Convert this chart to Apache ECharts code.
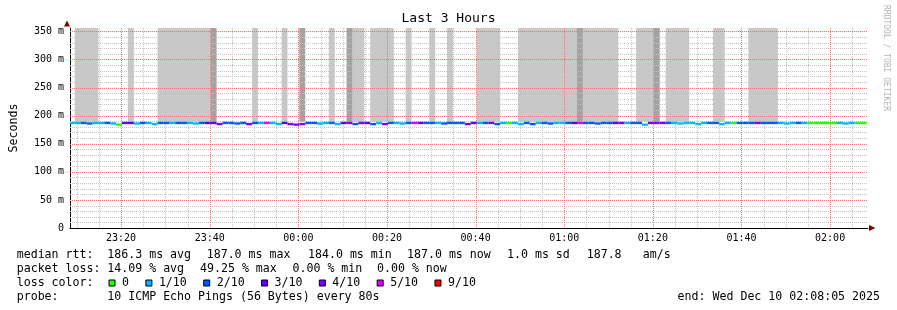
<!DOCTYPE html>
<html><head><meta charset="utf-8">
<script src="https://cdn.jsdelivr.net/npm/echarts@6.0.0/dist/echarts.min.js"></script>
<style>html,body{margin:0;padding:0;background:#fff}#c{width:897px;height:310px}</style>
</head><body><div id="c"></div>
<script>
// ---------- data (times are minutes after 23:00) ----------
const axisStartMin = 8.47;      // 23:08:28
const axisEndMin = 188.55;      // 02:08:33
const firstStepMin = 8.2167;    // start of the first 80 s step
const stepMin = 80 / 60;        // SmokePing step = 80 s
const timeLabelMins = [20, 40, 60, 80, 100, 120, 140, 160, 180];
const yLabelValues = [0, 50, 100, 150, 200, 250, 300, 350];

// per step: packet loss (pings lost out of 10)
const lossTenths = [
  1,1,2,2,1,1,2,1,0,3,
  3,1,2,1,1,2,2,1,2,2,
  1,1,2,3,3,4,2,2,2,2,
  4,2,1,5,1,1,3,4,4,4,
  2,2,1,1,2,1,3,4,2,4,
  3,2,1,4,2,1,1,2,5,3,
  2,2,1,2,2,2,2,4,3,1,
  2,4,2,1,0,1,1,2,2,1,
  2,2,1,1,2,3,5,2,2,2,
  2,2,3,4,1,2,2,1,4,4,
  4,2,1,1,1,1,1,1,2,2,
  1,1,0,2,2,2,4,2,2,2,
  1,1,1,2,1,0,0,0,0,0,
  1,1,1,0,0
];
// per step: median rtt in ms
const medianMs = [
  187,187,187,186,187,187,187,186,184,187,
  187,186,187,187,185,187,187,187,187,187,
  187,186,187,187,187,185,187,187,186,187,
  185,187,187,187,187,185,187,185,184,185,
  187,187,186,187,187,185,187,187,185,187,
  187,185,187,185,187,187,186,187,187,187,
  187,187,187,186,187,187,187,185,187,187,
  187,187,185,187,187,187,185,187,185,187,
  187,186,187,187,187,187,187,187,187,186,
  187,187,187,187,187,187,187,184,187,187,
  187,187,187,186,187,187,185,187,187,187,
  185,187,187,187,187,187,187,187,187,187,
  187,186,187,187,187,187,187,187,187,187,
  187,186,187,187,187
];
// smoke (rtt spread) : step index ranges, light and dense
const smokeLightSpans = [[1,4],[10,10],[15,23],[31,31],[36,36],[44,44],[48,49],[51,54],[57,57],[61,61],[64,64],[69,72],[76,85],[87,92],[96,98],[101,104],[109,110],[115,119]];
const smokeDarkSteps = [24,39,47,86,99];
const smokeFloorMs = 189;
const smokeTopMs = 380;   // runs off the top of the graph

const lossLegendNames = ['0','1/10','2/10','3/10','4/10','5/10','9/10'];
const lossColors = ['#26ff00','#00b8ff','#0059ff','#5e00ff','#7e00ff','#dd00ff','#ff0000'];

const rttItems = ['median rtt:', '186.3 ms avg', '187.0 ms max', '184.0 ms min', '187.0 ms now', '1.0 ms sd', '187.8', 'am/s'];
const lossItems = ['packet loss:', '14.09 % avg', '49.25 % max', '0.00 % min', '0.00 % now'];
const probeText = ['probe:', '10 ICMP Echo Pings (56 Bytes) every 80s'];
const endText = 'end: Wed Dec 10 02:08:05 2025';
const titleText = 'Last 3 Hours';
const watermark = 'RRDTOOL / TOBI OETIKER';

// ---------- layout ----------
const rttX = [16.7, 107.3, 206.7, 308, 407, 507, 586.7, 642.7];
const lossX = [16.7, 107.3, 200, 292.5, 377];
const probeX = [16.7, 107.3];
const FONT = 'DejaVu Sans Mono';

function levelIndex(t) { return t >= 6 ? 6 : t; }
function fmtTime(m) {
  const t = ((23 * 60 + Math.round(m)) % 1440 + 1440) % 1440;
  const h = Math.floor(t / 60), mm = t % 60;
  return (h < 10 ? '0' : '') + h + ':' + (mm < 10 ? '0' : '') + mm;
}
function clipRect(r, cs) {
  return echarts.graphic.clipRectByRect(r, {x: cs.x, y: cs.y, width: cs.width, height: cs.height});
}
function renderSmoke(params, api) {
  const p1 = api.coord([api.value(0), api.value(3)]);
  const p2 = api.coord([api.value(1), api.value(2)]);
  const r = clipRect({x: p1[0], y: p1[1], width: p2[0] - p1[0], height: p2[1] - p1[1]}, params.coordSys);
  if (!r) return;
  return {type: 'rect', shape: r, style: {fill: api.visual('color')}};
}
function renderMedian(params, api) {
  const v = api.value(2);
  const p1 = api.coord([api.value(0), v]);
  const p2 = api.coord([api.value(1), v]);
  const r = clipRect({x: p1[0], y: p1[1] - 1.2, width: p2[0] - p1[0], height: 2.4}, params.coordSys);
  if (!r) return;
  return {type: 'rect', shape: r, style: {fill: api.visual('color')}};
}
// grid line: data item = [orientation(0=vertical,1=horizontal), value]
function renderGrid(params, api) {
  const cs = params.coordSys;
  const o = api.value(0), v = api.value(1);
  let shape;
  if (o === 0) {
    const x = Math.round(api.coord([v, 0])[0]) + 0.5;
    shape = {x1: x, y1: cs.y, x2: x, y2: cs.y + cs.height};
  } else {
    const y = Math.round(api.coord([axisStartMin, v])[1]) + 0.5;
    shape = {x1: cs.x, y1: y, x2: cs.x + cs.width, y2: y};
  }
  return {type: 'line', shape, style: {stroke: api.visual('color'), lineWidth: 1, lineDash: [1, 1]}};
}

const stepStart = i => firstStepMin + i * stepMin;
const lightData = smokeLightSpans.map(s => [stepStart(s[0]), stepStart(s[1] + 1), smokeFloorMs, smokeTopMs]);
const darkData = smokeDarkSteps.map(i => [stepStart(i), stepStart(i + 1), smokeFloorMs, smokeTopMs]);

const medianSeries = lossLegendNames.map((name, k) => {
  const data = [];
  medianMs.forEach((v, i) => {
    if (levelIndex(lossTenths[i]) === k) data.push([stepStart(i), stepStart(i + 1), v]);
  });
  return {name, type: 'custom', z: 5, renderItem: renderMedian, data,
    encode: {x: [0, 1], y: 2}, itemStyle: {color: lossColors[k]}, silent: true};
});

const minorGrid = [], majorGrid = [];
for (let m = 10; m <= 185; m += 5) (m % 20 === 0 ? majorGrid : minorGrid).push([0, m]);
for (let v = 10; v <= 350; v += 10) (v % 50 === 0 ? majorGrid : minorGrid).push([1, v]);

const graphics = [];
const txt = (x, y, t, extra) => ({type: 'text', x, y, style: Object.assign({text: t, fontFamily: FONT, fontSize: 11.6, fill: '#000', verticalAlign: 'middle'}, extra || {})});
rttItems.forEach((t, i) => graphics.push(txt(rttX[i], 255, t)));
lossItems.forEach((t, i) => graphics.push(txt(lossX[i], 268.5, t)));
graphics.push(txt(16.7, 283, 'loss color:'));
probeText.forEach((t, i) => graphics.push(txt(probeX[i], 297, t)));
graphics.push(txt(880, 297, endText, {align: 'right'}));
graphics.push({type: 'text', x: 886, y: 5, rotation: -Math.PI / 2, style: {text: watermark, fontFamily: FONT, fontSize: 8, fill: '#b4b4b4', align: 'left', verticalAlign: 'middle'}});
graphics.push({type: 'polygon', shape: {points: [[64, 26.5], [70, 26.5], [67, 20.5]]}, style: {fill: '#800000'}, z: 100});
graphics.push({type: 'polygon', shape: {points: [[869, 225], [869, 231], [875.5, 228]]}, style: {fill: '#800000'}, z: 100});

const chart = echarts.init(document.getElementById('c'), null, {renderer: 'canvas'});
chart.setOption({
  animation: false,
  backgroundColor: '#ffffff',
  title: {text: titleText, left: 'center', top: 12, padding: 0,
    textStyle: {fontFamily: FONT, fontSize: 13, fontWeight: 'normal', color: '#000'}},
  legend: {
    data: lossLegendNames, left: 108.5, top: 277, padding: 0, itemGap: 16.4,
    itemWidth: 6, itemHeight: 6, icon: 'rect', selectedMode: false,
    itemStyle: {borderColor: '#000', borderWidth: 1},
    textStyle: {fontFamily: FONT, fontSize: 11.6, color: '#000', padding: [0, 0, 0, 2]}
  },
  grid: {left: 67, right: 29, top: 28, bottom: 82, containLabel: false},
  xAxis: {
    type: 'value', min: axisStartMin, max: axisEndMin,
    axisLine: {lineStyle: {color: '#000', width: 1}},
    axisTick: {show: false}, splitLine: {show: false},
    axisLabel: {customValues: timeLabelMins, formatter: v => fmtTime(v), margin: 5,
      fontFamily: FONT, fontSize: 10, color: '#000'}
  },
  yAxis: {
    type: 'value', min: 0, max: 356, interval: 50,
    name: 'Seconds', nameLocation: 'middle', nameGap: 50, nameRotate: 90,
    nameTextStyle: {fontFamily: FONT, fontSize: 11.6, color: '#000'},
    axisLine: {show: true, lineStyle: {color: '#000', width: 1}},
    axisTick: {show: false}, splitLine: {show: false},
    axisLabel: {customValues: yLabelValues, margin: 6, fontFamily: FONT, fontSize: 10, color: '#000',
      formatter: v => v === 0 ? '0' : v + ' m'}
  },
  graphic: graphics,
  series: [
    {name: 'smoke', type: 'custom', z: 1, renderItem: renderSmoke, data: lightData,
      encode: {x: [0, 1], y: [2, 3]}, itemStyle: {color: '#c8c8c8'}, silent: true},
    {name: 'smoke dense', type: 'custom', z: 1, renderItem: renderSmoke, data: darkData,
      encode: {x: [0, 1], y: [2, 3]}, itemStyle: {color: '#a3a3a3'}, silent: true},
    {name: 'grid minor', type: 'custom', z: 2, renderItem: renderGrid, data: minorGrid,
      encode: {x: -1, y: -1}, itemStyle: {color: '#c4c4c4'}, silent: true},
    {name: 'grid major', type: 'custom', z: 3, renderItem: renderGrid, data: majorGrid,
      encode: {x: -1, y: -1}, itemStyle: {color: '#f07a7a'}, silent: true}
  ].concat(medianSeries)
});
</script></body></html>
